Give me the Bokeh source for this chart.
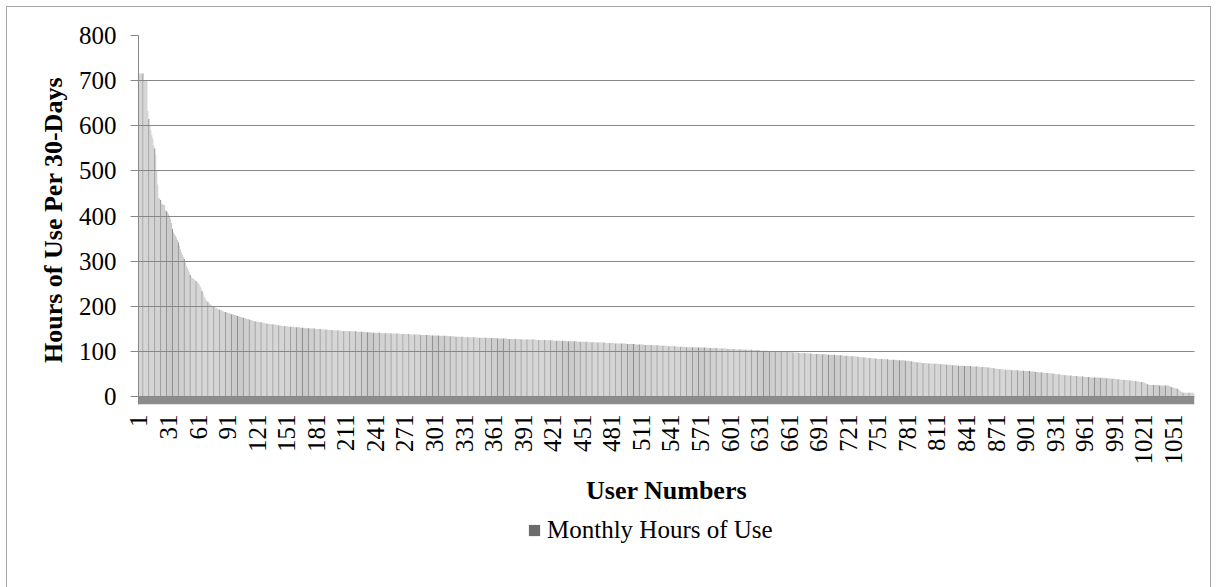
from bokeh.plotting import figure
from bokeh.layouts import column
from bokeh.models import Range1d, FixedTicker, Legend, LegendItem, BoxAnnotation, ColumnDataSource
from bokeh.embed import file_html
from bokeh.resources import INLINE
import numpy as np
import math

# Monthly hours of use per user (sorted), users 1..1072
monthly_hours = [
    716, 716, 716, 716, 716, 700, 700, 700, 700, 633, 615, 600, 590, 580, 572, 557, 550, 535, 500, 470, 440, 439, 436, 427, 426, 425, 424, 413, 411, 409,
    405, 400, 394, 385, 372, 364, 360, 357, 353, 347, 342, 335, 327, 320, 315, 310, 305, 297, 290, 285, 281, 276, 270, 265, 263, 262, 260, 258, 256, 254,
    252, 249, 245, 240, 234, 228, 222, 218, 215, 212, 210, 207, 206, 204, 202, 200, 199, 198, 197, 196, 195, 194, 193, 192, 191, 190, 189, 188, 188, 187,
    186, 185, 185, 184, 183, 183, 182, 181, 181, 180, 179, 178, 178, 177, 176, 176, 175, 174, 174, 173, 172, 172, 171, 170, 170, 169, 168, 168, 167, 167,
    166, 166, 165, 165, 165, 164, 164, 163, 163, 163, 162, 162, 162, 161, 161, 161, 160, 160, 160, 159, 159, 159, 158, 158, 158, 157, 157, 157, 156, 156,
    156, 156, 155, 155, 155, 155, 155, 155, 154, 154, 154, 154, 154, 154, 153, 153, 153, 153, 153, 152, 152, 152, 152, 152, 152, 151, 151, 151, 151, 150,
    150, 150, 150, 150, 150, 149, 149, 149, 149, 149, 149, 149, 148, 148, 148, 148, 148, 148, 147, 147, 147, 147, 147, 147, 147, 146, 146, 146, 146, 146,
    146, 146, 146, 145, 145, 145, 145, 145, 145, 145, 145, 145, 144, 144, 144, 144, 144, 144, 144, 144, 143, 143, 143, 143, 143, 143, 143, 142, 142, 142,
    142, 142, 142, 142, 142, 142, 141, 141, 141, 141, 141, 141, 141, 141, 141, 141, 140, 140, 140, 140, 140, 140, 140, 140, 140, 139, 139, 139, 139, 139,
    139, 139, 139, 139, 139, 138, 138, 138, 138, 138, 138, 138, 138, 138, 138, 138, 137, 137, 137, 137, 137, 137, 137, 137, 137, 137, 136, 136, 136, 136,
    136, 136, 136, 136, 136, 135, 135, 135, 135, 135, 135, 135, 135, 135, 134, 134, 134, 134, 134, 134, 134, 133, 133, 133, 133, 133, 133, 133, 133, 133,
    132, 132, 132, 132, 132, 132, 132, 132, 132, 132, 132, 132, 132, 131, 131, 131, 131, 131, 131, 131, 131, 131, 131, 130, 130, 130, 130, 130, 130, 130,
    130, 130, 130, 130, 129, 129, 129, 129, 129, 129, 129, 129, 129, 129, 128, 128, 128, 128, 128, 128, 128, 128, 128, 128, 128, 128, 128, 128, 127, 127,
    127, 127, 127, 127, 127, 127, 127, 127, 127, 127, 127, 127, 127, 126, 126, 126, 126, 126, 126, 126, 126, 126, 126, 126, 125, 125, 125, 125, 125, 125,
    125, 124, 124, 124, 124, 124, 124, 124, 124, 124, 124, 124, 124, 124, 123, 123, 123, 123, 123, 123, 123, 123, 123, 123, 123, 122, 122, 122, 122, 122,
    122, 122, 122, 122, 122, 122, 122, 121, 121, 121, 121, 121, 121, 121, 120, 120, 120, 120, 120, 120, 120, 120, 120, 120, 119, 119, 119, 119, 119, 119,
    119, 119, 119, 118, 118, 118, 118, 118, 118, 118, 118, 118, 118, 118, 118, 117, 117, 117, 117, 117, 117, 117, 117, 117, 116, 116, 116, 116, 116, 116,
    116, 116, 116, 115, 115, 115, 115, 115, 115, 115, 115, 114, 114, 114, 114, 114, 114, 114, 114, 113, 113, 113, 113, 113, 113, 113, 113, 112, 112, 112,
    112, 112, 112, 112, 112, 112, 111, 111, 111, 111, 111, 111, 111, 111, 111, 111, 110, 110, 110, 110, 110, 110, 110, 110, 110, 110, 110, 109, 109, 109,
    109, 109, 109, 109, 109, 109, 109, 108, 108, 108, 108, 108, 108, 108, 108, 108, 108, 108, 107, 107, 107, 107, 107, 107, 107, 107, 107, 106, 106, 106,
    106, 106, 106, 106, 106, 106, 105, 105, 105, 105, 105, 105, 105, 105, 105, 104, 104, 104, 104, 104, 104, 104, 104, 103, 103, 103, 103, 103, 103, 103,
    103, 102, 102, 102, 102, 102, 102, 102, 102, 101, 101, 101, 101, 101, 101, 101, 101, 101, 100, 100, 100, 100, 100, 100, 100, 100, 99, 99, 99, 99,
    99, 99, 99, 99, 98, 98, 98, 98, 98, 98, 97, 97, 97, 97, 97, 97, 97, 96, 96, 96, 96, 96, 96, 96, 95, 95, 95, 95, 95, 95,
    95, 95, 94, 94, 94, 94, 94, 94, 94, 93, 93, 93, 93, 93, 93, 93, 93, 92, 92, 92, 92, 92, 92, 92, 92, 91, 91, 91, 91, 91,
    91, 90, 90, 90, 90, 90, 89, 89, 89, 89, 88, 88, 88, 88, 87, 87, 87, 87, 87, 86, 86, 86, 86, 86, 85, 85, 85, 85, 85, 84,
    84, 84, 84, 84, 84, 83, 83, 83, 83, 83, 83, 82, 82, 82, 82, 82, 82, 82, 82, 82, 81, 81, 81, 81, 81, 81, 81, 81, 80, 80,
    80, 80, 79, 79, 79, 78, 78, 77, 77, 77, 76, 76, 76, 76, 76, 75, 75, 75, 75, 75, 74, 74, 74, 74, 74, 74, 73, 73, 73, 73,
    73, 73, 73, 72, 72, 72, 72, 72, 72, 71, 71, 71, 71, 71, 71, 70, 70, 70, 70, 70, 70, 69, 69, 69, 69, 69, 69, 69, 68, 68,
    68, 68, 68, 68, 68, 67, 67, 67, 67, 67, 67, 67, 67, 66, 66, 66, 66, 66, 66, 66, 66, 65, 65, 65, 65, 64, 64, 63, 63, 62,
    62, 62, 61, 61, 61, 61, 61, 61, 60, 60, 60, 60, 60, 60, 60, 60, 59, 59, 59, 59, 59, 59, 59, 58, 58, 58, 58, 58, 58, 57,
    57, 57, 57, 57, 57, 56, 56, 56, 56, 56, 55, 55, 55, 55, 54, 54, 54, 54, 54, 53, 53, 53, 53, 53, 52, 52, 52, 52, 51, 51,
    51, 50, 50, 50, 50, 49, 49, 49, 49, 48, 48, 48, 48, 47, 47, 47, 47, 47, 46, 46, 46, 46, 46, 46, 45, 45, 45, 45, 45, 45,
    44, 44, 44, 44, 44, 44, 43, 43, 43, 43, 43, 43, 43, 43, 43, 42, 42, 42, 42, 42, 42, 41, 41, 41, 41, 41, 40, 40, 40, 40,
    40, 40, 39, 39, 39, 39, 38, 38, 38, 38, 37, 37, 37, 37, 37, 36, 36, 36, 36, 35, 35, 35, 35, 34, 34, 34, 33, 33, 33, 32,
    32, 31, 30, 29, 28, 27, 26, 26, 26, 26, 26, 26, 26, 26, 26, 26, 25, 25, 25, 25, 25, 25, 25, 25, 25, 25, 24, 23, 22, 21,
    20, 20, 19, 19, 18, 17, 15, 13, 11, 10, 9, 9, 9, 9, 9, 9, 9, 9, 9, 9, 9, 9,
]
user_numbers = list(range(1, len(monthly_hours) + 1))

x_tick_labels = [1, 31, 61, 91, 121, 151, 181, 211, 241, 271, 301, 331, 361, 391, 421, 451,
                 481, 511, 541, 571, 601, 631, 661, 691, 721, 751, 781, 811, 841, 871, 901,
                 931, 961, 991, 1021, 1051]
y_ticks = [0, 100, 200, 300, 400, 500, 600, 700, 800]

series_name = "Monthly Hours of Use"
x_title = "User Numbers"
y_title = "Hours of Use Per 30-Days"

FONT = "Liberation Serif"
LIGHT = "#c9c9c9"
DARK = "#8e8e8e"
BORDER = "1px solid #a6a6a6"
W = 1205

n = len(monthly_hours)
bar_colors = [DARK if (i % 6 == 4) else LIGHT for i in range(n)]
src = ColumnDataSource(data=dict(user=user_numbers, hours=monthly_hours, color=bar_colors))

p = figure(width=W, height=507, output_backend="svg", toolbar_location=None,
           x_range=Range1d(0.5, n + 0.5), y_range=Range1d(-17, 800),
           min_border_left=131, min_border_right=18, min_border_top=28, min_border_bottom=110)
p.styles = {"border-top": BORDER, "border-left": BORDER, "border-right": BORDER}
p.outline_line_color = None
p.background_fill_color = "white"
p.border_fill_color = "white"

# chart floor
p.add_layout(BoxAnnotation(top=0, bottom=-17, fill_color="#8c8c8c", fill_alpha=1.0,
                           line_color=None, level="underlay"))

bars = p.vbar(x="user", top="hours", bottom=0, width=1.0, source=src,
              fill_color="color", line_color=None)

p.xgrid.visible = False
p.ygrid.ticker = FixedTicker(ticks=y_ticks)
p.ygrid.grid_line_color = "#878787"
p.ygrid.grid_line_width = 1
p.ygrid.level = "overlay"

yax = p.yaxis[0]
yax.ticker = FixedTicker(ticks=y_ticks)
yax.axis_line_color = "#878787"
yax.major_tick_line_color = "#878787"
yax.major_tick_out = 8
yax.major_tick_in = 0
yax.minor_tick_line_color = None
yax.major_label_standoff = 14
yax.major_label_text_font = FONT
yax.major_label_text_font_size = "25px"
yax.major_label_text_color = "black"
yax.axis_label = y_title
yax.axis_label_text_font = FONT
yax.axis_label_text_font_size = "26px"
yax.axis_label_text_font_style = "bold"
yax.axis_label_text_color = "black"
yax.axis_label_standoff = 8

xax = p.xaxis[0]
xax.ticker = FixedTicker(ticks=x_tick_labels)
xax.axis_line_color = None
xax.major_tick_line_color = None
xax.minor_tick_line_color = None
xax.major_tick_out = 0
xax.major_label_orientation = math.pi / 2
xax.major_label_standoff = 10
xax.major_label_text_font = FONT
xax.major_label_text_font_size = "25px"
xax.major_label_text_color = "black"
xax.axis_label = x_title
xax.axis_label_text_font = FONT
xax.axis_label_text_font_size = "26px"
xax.axis_label_text_font_style = "bold"
xax.axis_label_text_color = "black"
xax.axis_label_standoff = 8

# legend strip below the chart
q = figure(width=W, height=74, output_backend="svg", toolbar_location=None,
           x_range=Range1d(0, 1), y_range=Range1d(0, 1),
           x_axis_type=None, y_axis_type=None,
           min_border_left=0, min_border_right=0, min_border_top=0, min_border_bottom=0)
q.styles = {"border-left": BORDER, "border-right": BORDER}
q.outline_line_color = None
q.grid.visible = False
# legend key only (no visible mark: NaN position)
proxy_src = ColumnDataSource(data=dict(x=np.array([np.nan]), top=np.array([np.nan])))
proxy = q.vbar(x="x", top="top", width=1.0, source=proxy_src,
               fill_color="#6b6b6b", line_color=None)
legend = Legend(items=[LegendItem(label=series_name, renderers=[proxy], index=0)],
                location=(389, 43), orientation="horizontal",
                label_text_font=FONT, label_text_font_size="25px", label_text_color="black",
                glyph_width=14, glyph_height=14, label_standoff=6,
                border_line_color=None, background_fill_alpha=0,
                padding=0, margin=0)
q.add_layout(legend, "center")

layout = column(p, q, spacing=0)
layout.styles = {"margin-left": "6px", "margin-top": "6px"}

open("out.html", "w").write(file_html(layout, INLINE))
